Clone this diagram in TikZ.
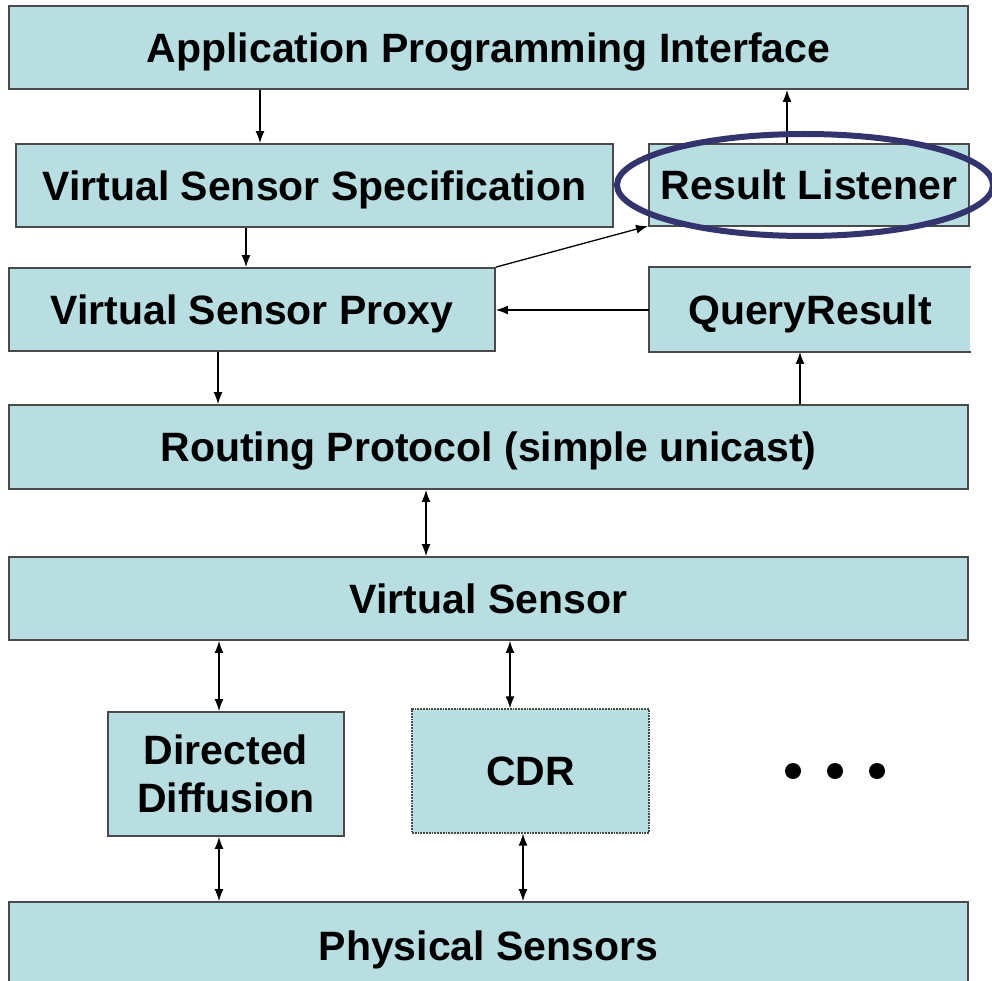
\documentclass[tikz,border=0pt]{standalone}
\usepackage{fontspec}
\setmainfont{Liberation Sans}
\usetikzlibrary{arrows.meta}
\definecolor{boxfill}{HTML}{B8DEE2}
\definecolor{boxline}{HTML}{4A4A4A}
\definecolor{ring}{HTML}{33336E}
\begin{document}
\begin{tikzpicture}[x=1pt,y=-1pt,
  box/.style={draw=boxline, line width=1.8pt, fill=boxfill, inner sep=0pt,
    font=\fontsize{41}{48}\selectfont\bfseries, align=center, text=black},
  one/.style={text height=29.5pt, text depth=0pt},
  arr/.style={line width=1.3pt, draw=black, -{Latex[length=12pt,width=9pt]}},
  darr/.style={line width=1.3pt, draw=black, {Latex[length=12pt,width=9pt]}-{Latex[length=12pt,width=9pt]}}]
\useasboundingbox (0,0) rectangle (992,981);
\fill[white] (0,0) rectangle (992,981);

% boxes
\node[box, one, minimum width=959pt, minimum height=83pt] (api) at (488.5,47.5) {Application Programming Interface};
\node[box, one, minimum width=597pt, minimum height=83pt] (vss) at (314.5,185.5) {Virtual Sensor Specification};
\node[box, one, minimum width=320pt, minimum height=82pt] (rl) at (809,185) {Result Listener};
\node[box, one, minimum width=486pt, minimum height=83pt] (vsp) at (252,309.5) {Virtual Sensor Proxy};
\node[box, one, draw=none, minimum width=320pt, minimum height=83pt] (qr) at (810,309.5) {QueryResult};
\draw[boxline, line width=1.8pt] (qr.north east) -- (qr.north west) -- (qr.south west) -- (qr.south east);
\node[box, one, minimum width=959pt, minimum height=84pt] (rp) at (488.5,447) {Routing Protocol (simple unicast)};
\node[box, one, minimum width=959pt, minimum height=83pt] (vs) at (488.5,598.5) {Virtual Sensor};
\node[box, minimum width=236pt, minimum height=124pt] (dd) at (226,774) {Directed\\Diffusion};
\node[box, one, densely dotted, line width=1.2pt, minimum width=237pt, minimum height=124pt] (cdr) at (530.5,771) {CDR};
\node[box, one, minimum width=959pt, minimum height=88pt] (ps) at (488.5,946) {Physical Sensors};

% x positions of connectors
\coordinate (xa) at (260,0);
\coordinate (xb) at (787,0);
\coordinate (xc) at (246,0);
\coordinate (xd) at (218,0);
\coordinate (xe) at (800,0);
\coordinate (xf) at (426,0);
\coordinate (xg) at (219,0);
\coordinate (xh) at (510,0);
\coordinate (xi) at (523,0);
\coordinate (yq) at (0,310);
\coordinate (rlend) at (648,226);

% connectors
\draw[arr] (api.south -| xa) -- (vss.north -| xa);
\draw[arr] (rl.north -| xb) -- (api.south -| xb);
\draw[arr] (vss.south -| xc) -- (vsp.north -| xc);
\draw[arr] (vsp.north east) -- (rlend);
\draw[arr] (qr.west |- yq) -- (vsp.east |- yq);
\draw[arr] (vsp.south -| xd) -- (rp.north -| xd);
\draw[arr] (rp.north -| xe) -- (qr.south -| xe);
\draw[darr] (rp.south -| xf) -- (vs.north -| xf);
\draw[darr] (vs.south -| xg) -- (dd.north -| xg);
\draw[darr] (vs.south -| xh) -- (cdr.north -| xh);
\draw[darr] (dd.south -| xg) -- (ps.north -| xg);
\draw[darr] (cdr.south -| xi) -- (ps.north -| xi);

% dots
\node[circle, fill=black, inner sep=0pt, minimum size=16pt] (d1) at (793,771) {};
\node[circle, fill=black, inner sep=0pt, minimum size=16pt] (d2) at (835,771) {};
\node[circle, fill=black, inner sep=0pt, minimum size=16pt] (d3) at (877,771) {};

% highlight ellipse
\draw[ring, line width=6pt] (rl.center) ++(-4,0) ellipse [x radius=188pt, y radius=51pt];
\end{tikzpicture}
\end{document}
